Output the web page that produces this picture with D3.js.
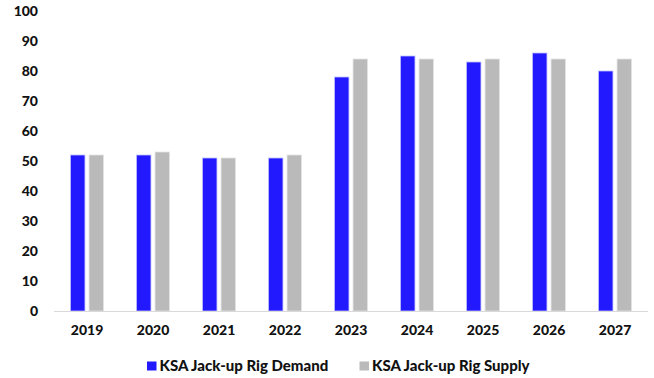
<!DOCTYPE html>
<html>
<head>
<meta charset="utf-8">
<script src="https://cdn.jsdelivr.net/npm/d3@7"></script>
<style>
  html, body { margin: 0; padding: 0; background: #fff; }
  svg { display: block; font-family: Lato, "Liberation Sans", sans-serif; font-weight: 900; }
</style>
</head>
<body>
<svg id="chart" width="654" height="378"></svg>
<script>
// Saudi jack-up rig demand vs supply by year
const years = ["2019", "2020", "2021", "2022", "2023", "2024", "2025", "2026", "2027"];
const demand = [52, 52, 51, 51, 78, 85, 83, 86, 80];
const supply = [52, 53, 51, 52, 84, 84, 84, 84, 84];
const seriesNames = ["KSA Jack-up Rig Demand", "KSA Jack-up Rig Supply"];
const yTicks = [0, 10, 20, 30, 40, 50, 60, 70, 80, 90, 100];

const colors = ["#2219FF", "#BABABA"];
const strokes = ["#BFC0FF", "#E4E4E4"];

const svg = d3.select("#chart");
const margin = { left: 54, right: 6, top: 11, bottom: 67 };
const W = 654, H = 378;

const x = d3.scaleBand().domain(years).range([margin.left, W - margin.right]).paddingInner(0).paddingOuter(0);
const y = d3.scaleLinear().domain([0, 100]).range([H - margin.bottom, margin.top]);
const x1 = d3.scaleBand().domain([0, 1]).range([x.bandwidth() * 0.25, x.bandwidth() * 0.75]).paddingInner(0.22);

const rows = years.map((yr, i) => ({ year: yr, values: [demand[i], supply[i]] }));

// bars
const g = svg.append("g");
g.selectAll("g.cat").data(rows).join("g")
  .attr("class", "cat")
  .attr("transform", d => `translate(${x(d.year)},0)`)
  .selectAll("rect").data(d => d.values.map((v, k) => ({ v, k }))).join("rect")
  .attr("x", d => x1(d.k))
  .attr("width", x1.bandwidth())
  .attr("y", d => y(d.v))
  .attr("height", d => y(0) - y(d.v))
  .attr("fill", d => colors[d.k])
  .attr("stroke", d => strokes[d.k])
  .attr("stroke-width", 0.8);

// baseline
svg.append("line")
  .attr("x1", margin.left).attr("x2", W - margin.right)
  .attr("y1", y(0) + 0.5).attr("y2", y(0) + 0.5)
  .attr("stroke", "#D9D9D9").attr("stroke-width", 1);

// y axis labels
const yAxis = d3.axisLeft(y).tickValues(yTicks).tickSize(0).tickPadding(0);
const ya = svg.append("g").attr("transform", `translate(38,0)`).call(yAxis);
ya.select(".domain").remove();
ya.selectAll("text").attr("font-size", 14).attr("font-family", "Lato, sans-serif")
  .attr("font-weight", 900).attr("fill", "#111");

// x axis labels
const xAxis = d3.axisBottom(x).tickSize(0).tickPadding(0);
const xa = svg.append("g").attr("transform", `translate(0,${y(0) + 14})`).call(xAxis);
xa.select(".domain").remove();
xa.selectAll("text").attr("font-size", 14).attr("font-family", "Lato, sans-serif")
  .attr("font-weight", 900).attr("fill", "#111");

// legend
const legendX = [147, 359.5];
const leg = svg.append("g");
seriesNames.forEach((name, k) => {
  const lg = leg.append("g").attr("transform", `translate(${legendX[k]},361.5)`);
  lg.append("rect").attr("width", 9.5).attr("height", 9).attr("fill", colors[k]);
  lg.append("text").attr("x", 12.5).attr("y", 4.5).attr("dy", "0.36em")
    .attr("font-size", 15).attr("fill", "#111").text(name);
});
</script>
</body>
</html>
